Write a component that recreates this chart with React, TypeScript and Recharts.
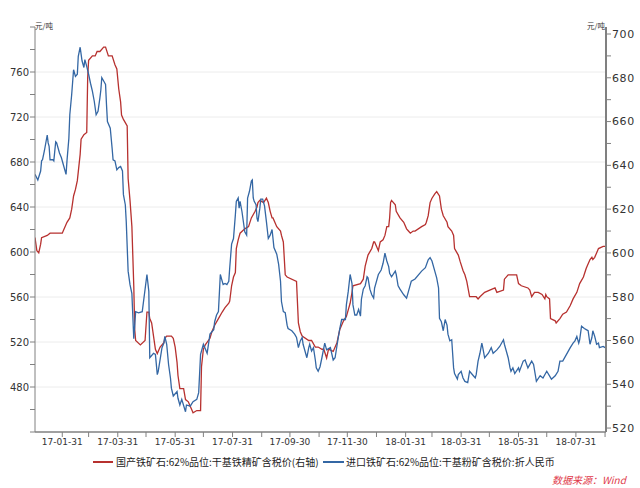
import React from 'react';
import { LineChart, Line, XAxis, YAxis, ReferenceLine } from 'recharts';

// days since 2017-01-01
const importDays = [1,4,7,8,9,11,14,15,16,17,20,21,23,24,27,29,31,34,35,37,38,40,42,44,46,47,49,51,53,54,56,58,60,62,64,66,68,70,71,72,74,76,77,78,81,83,84,86,88,90,92,94,95,97,98,100,102,104,106,108,111,115,120,122,123,127,129,131,132,136,138,139,141,143,145,146,148,152,153,155,157,161,162,166,169,173,175,177,180,184,187,191,192,194,196,198,201,203,205,207,208,210,212,214,215,217,218,219,221,223,224,226,227,229,231,232,233,234,236,237,238,240,241,243,245,247,249,251,253,254,255,258,260,262,263,265,267,269,270,274,277,279,281,283,285,286,288,290,292,293,295,297,299,300,302,304,306,309,311,315,318,320,323,325,327,331,332,334,336,338,339,341,343,345,347,348,350,352,354,355,357,359,361,362,366,369,371,373,375,377,378,380,384,385,387,389,393,396,398,400,401,405,412,416,419,421,423,426,428,430,431,433,435,437,439,440,442,444,446,447,450,451,454,456,458,461,463,467,469,470,472,474,476,477,479,483,486,488,492,495,499,500,502,504,506,507,509,511,515,516,520,522,525,529,531,534,538,541,545,550,554,557,559,562,566,570,573,575,577,579,580,582,585,587,589,591,593,594,596,598,600,601,605,607];
const importPrice = [669,664,672,681,682,690,704,697,694,682,682,681,698,697,688,684,678,669,681,701,722,740,762,756,758,774,782,770,764,771,765,758,750,743,734,722,725,737,744,755,752,749,731,716,710,692,682,681,673,675,676,672,651,642,627,583,571,563,523,547,546,547,580,565,506,510,509,491,494,515,519,525,518,500,488,479,472,476,470,464,469,458,464,463,467,469,475,509,518,510,527,531,538,544,547,580,571,572,571,574,586,607,612,633,645,648,639,645,636,624,618,615,648,654,663,664,648,645,642,630,627,639,647,647,641,627,612,615,620,612,604,598,589,574,556,547,546,535,532,530,527,524,515,521,524,518,512,506,515,518,512,515,504,497,494,498,506,519,513,515,504,506,522,532,540,540,553,565,580,572,553,544,544,549,543,558,567,570,578,577,567,562,559,568,580,584,590,599,592,587,581,578,583,580,570,567,562,559,565,571,574,576,583,586,593,595,592,583,577,568,541,538,530,540,535,527,521,522,497,492,487,491,494,488,485,484,494,490,488,491,503,510,519,515,506,510,515,510,513,516,522,518,512,506,497,494,497,492,497,494,503,504,497,503,500,485,490,488,494,487,490,494,503,503,509,515,519,521,525,519,522,534,532,531,530,518,524,530,525,518,519,515,516,515];

const domesticDays = [1,3,5,7,8,14,17,30,32,35,38,40,42,44,46,47,49,50,53,56,57,58,62,65,67,70,74,76,79,83,86,88,90,92,93,95,99,100,102,104,106,107,108,113,118,120,122,123,125,127,129,131,134,138,139,141,146,148,150,152,153,155,159,161,164,166,168,169,173,177,178,180,182,187,189,192,196,200,203,207,208,210,212,214,215,217,219,224,228,231,235,237,238,240,244,247,249,251,253,254,258,262,263,265,267,269,279,281,283,285,292,295,299,302,306,308,311,313,318,322,325,329,332,334,336,338,339,347,350,352,355,359,361,362,364,366,368,371,373,375,377,378,379,380,384,385,389,393,396,398,400,403,405,412,416,417,419,421,423,426,428,431,433,435,439,440,444,446,447,451,453,456,458,460,463,465,467,470,472,474,479,490,492,499,500,504,511,513,515,518,525,527,529,532,536,540,543,544,545,548,549,554,555,559,562,566,570,573,577,580,584,587,591,593,594,596,598,600,605,607];
const domesticPrice = [607,601,600,604,607,608,609,609,611,614,616,620,626,629,633,637,645,652,654,655,680,688,690,690,692,692,694,694,690,690,686,684,675,669,663,661,658,634,624,612,585,565,560,558,560,573,573,570,568,562,556,554,557,559,561,562,562,561,557,550,544,538,538,533,532,530,528,527,528,528,548,556,558,561,564,567,570,573,575,577,578,585,589,591,602,606,609,611,612,616,619,621,623,624,623,625,623,619,616,616,612,610,608,605,590,589,587,568,564,562,560,560,557,557,556,556,552,556,555,559,565,569,571,574,577,582,585,586,588,594,599,602,605,605,603,601,605,606,608,612,612,616,623,624,622,619,616,614,611,610,609,610,610,612,613,614,617,623,625,627,628,626,620,617,614,612,610,608,602,599,596,592,590,587,580,580,580,580,579,580,582,584,582,583,588,590,590,590,586,585,584,583,580,582,582,581,579,581,580,579,570,569,568,570,572,573,576,579,582,586,589,593,597,598,597,598,600,602,603,603];

const monthEndDays = [30,58,89,119,150,180,211,242,272,303,333,364,395,423,454,484,515,545,576,607];
const monthEndLabels = ['17-01-31','','17-03-31','','17-05-31','','17-07-31','','17-09-30','','17-11-30','','18-01-31','','18-03-31','','18-05-31','','18-07-31',''];

const leftTicks = [440,460,480,500,520,540,560,580,600,620,640,660,680,700,720,740,760,780,800];
const leftLabels = [480,520,560,600,640,680,720,760];
const rightTicks = [520,530,540,550,560,570,580,590,600,610,620,630,640,650,660,670,680,690,700];
const rightLabels = [520,540,560,580,600,620,640,660,680,700];

const importName = '进口铁矿石:62%品位:干基粉矿含税价:折人民币';
const domesticName = '国产铁矿石:62%品位:干基铁精矿含税价(右轴)';

const importData = importDays.map((d, i) => ({ d, v: importPrice[i] }));
const domesticData = domesticDays.map((d, i) => ({ d, v: domesticPrice[i] }));

const RED = '#b7312f';
const BLUE = '#3467a4';
const AXIS = '#808080';
const NUM_FONT = 'DejaVu Sans';
const CJK_FONT = '"Noto Sans CJK SC", "Noto Sans", sans-serif';

export default function App() {
  return (
    <div style={{ position: 'absolute', left: 0, top: 0, width: 640, height: 488, background: '#fff', overflow: 'hidden' }}>
      <LineChart width={640} height={488} margin={{ top: 27, right: 0, bottom: 0, left: 0 }}>
        {leftLabels.map((v) => (
          <ReferenceLine key={v} yAxisId="left" y={v} stroke="#ececec" strokeWidth={1} />
        ))}
        <XAxis
          type="number"
          dataKey="d"
          domain={[1, 608]}
          allowDataOverflow
          ticks={monthEndDays}
          interval={0}
          tickFormatter={(v) => monthEndLabels[monthEndDays.indexOf(v)] || ''}
          height={56}
          axisLine={{ stroke: AXIS, strokeWidth: 1.5 }}
          tickLine={{ stroke: AXIS }}
          tickSize={5}
          tickMargin={2}
          tick={{ fontSize: 9, fill: '#333', fontFamily: NUM_FONT }}
        />
        <YAxis
          yAxisId="left"
          orientation="left"
          type="number"
          domain={[440, 800]}
          allowDataOverflow
          ticks={leftTicks}
          interval={0}
          tickFormatter={(v) => (leftLabels.includes(v) ? String(v) : '')}
          width={35}
          axisLine={{ stroke: AXIS, strokeWidth: 1 }}
          tickLine={{ stroke: AXIS }}
          tickSize={5}
          tickMargin={1}
          tick={{ fontSize: 10, fill: '#333', fontFamily: NUM_FONT }}
        />
        <YAxis
          yAxisId="right"
          orientation="right"
          type="number"
          domain={[518.2, 703.2]}
          allowDataOverflow
          ticks={rightTicks}
          interval={0}
          tickFormatter={(v) => (rightLabels.includes(v) ? String(v) : '')}
          width={34}
          axisLine={{ stroke: AXIS, strokeWidth: 2 }}
          tickLine={{ stroke: AXIS }}
          tickSize={5}
          tickMargin={1}
          tick={{ fontSize: 11, fill: '#333', fontFamily: NUM_FONT, letterSpacing: 0.6 }}
        />
        <Line
          yAxisId="right"
          data={domesticData}
          dataKey="v"
          name={domesticName}
          type="linear"
          stroke={RED}
          strokeWidth={1.3}
          dot={false}
          isAnimationActive={false}
        />
        <Line
          yAxisId="left"
          data={importData}
          dataKey="v"
          name={importName}
          type="linear"
          stroke={BLUE}
          strokeWidth={1.3}
          dot={false}
          isAnimationActive={false}
        />
      </LineChart>

      <div style={{ position: 'absolute', left: 35, top: 21, fontSize: 7.5, lineHeight: '9px', color: '#333', fontFamily: CJK_FONT }}>元/吨</div>
      <div style={{ position: 'absolute', right: 35, top: 21, fontSize: 7.5, lineHeight: '9px', color: '#333', fontFamily: CJK_FONT }}>元/吨</div>

      <div style={{ position: 'absolute', left: 93, top: 461, width: 20, height: 1.5, background: RED }} />
      <div style={{ position: 'absolute', left: 116, top: 455, fontSize: 10, lineHeight: '14px', color: '#222', fontFamily: CJK_FONT, whiteSpace: 'nowrap' }}>{domesticName}</div>
      <div style={{ position: 'absolute', left: 323, top: 461, width: 21, height: 1.5, background: BLUE }} />
      <div style={{ position: 'absolute', left: 346, top: 455, fontSize: 10, lineHeight: '14px', color: '#222', fontFamily: CJK_FONT, whiteSpace: 'nowrap' }}>{importName}</div>

      <div style={{ position: 'absolute', left: 552, top: 473, fontSize: 10, lineHeight: '14px', color: '#e03a4a', fontFamily: CJK_FONT, fontStyle: 'italic', whiteSpace: 'nowrap' }}>数据来源：Wind</div>
    </div>
  );
}
